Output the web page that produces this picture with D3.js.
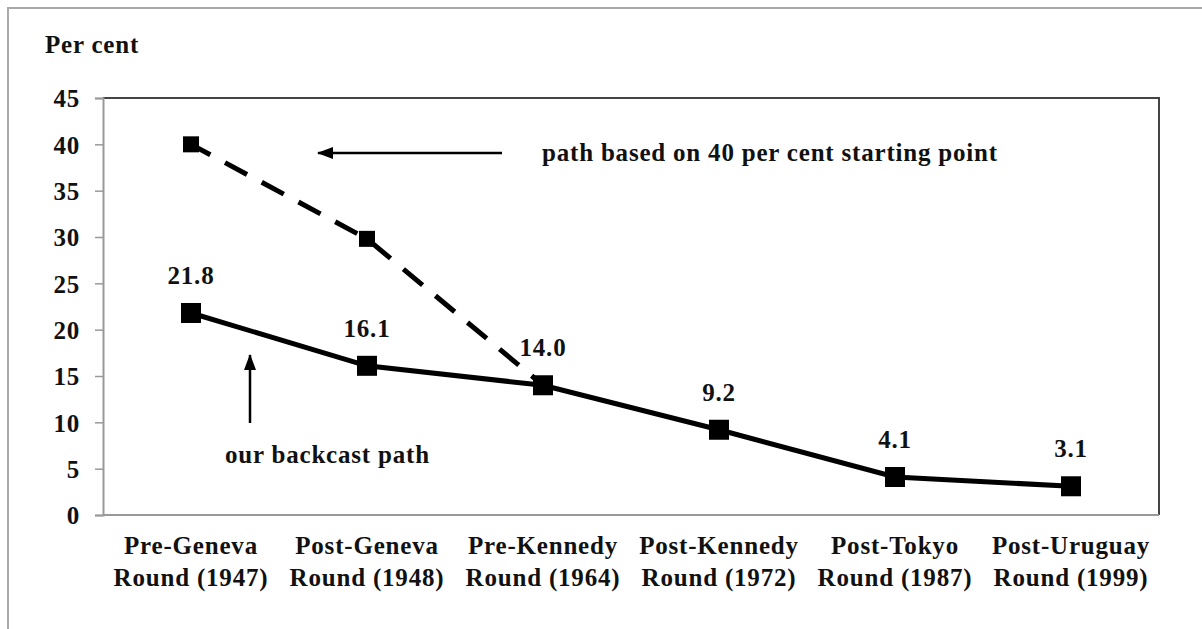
<!DOCTYPE html>
<html>
<head>
<meta charset="utf-8">
<script src="https://cdn.jsdelivr.net/npm/d3@7"></script>
<style>
  body { margin: 0; background: #fff; }
  text { font-family: "Liberation Serif", "Times New Roman", serif; font-weight: bold; fill: #111; letter-spacing: 0.8px; }
</style>
</head>
<body>
<div id="chart"></div>
<script>
// rounds on the x axis, two lines each
const categories = ["Pre-Geneva|Round (1947)", "Post-Geneva|Round (1948)", "Pre-Kennedy|Round (1964)",
                    "Post-Kennedy|Round (1972)", "Post-Tokyo|Round (1987)", "Post-Uruguay|Round (1999)"]
const backcast = [21.8, 16.1, 14.0, 9.2, 4.1, 3.1]
const alt40 = [40, 29.8, 14.0]   // path from 40 per cent start, first three rounds
const yTicks = [0, 5, 10, 15, 20, 25, 30, 35, 40, 45]

const width = 1202, height = 629
const m = {left: 103, right: 1159, top: 98, bottom: 515}

const svg = d3.select("#chart").append("svg")
    .attr("width", width)
    .attr("height", height)

// outer frame (only top and left edges visible)
svg.append("path")
    .attr("d", `M8,${height}V8H${width}`)
    .attr("fill", "none")
    .attr("stroke", "#aaa")
    .attr("stroke-width", 2)

const x = d3.scaleBand().domain(categories).range([m.left, m.right])
const y = d3.scaleLinear().domain([0, 45]).range([m.bottom, m.top])
const cx = i => x(categories[i]) + x.bandwidth() / 2

// plot border top/right
svg.append("path")
    .attr("d", `M${m.left},${m.top}H${m.right}V${m.bottom}`)
    .attr("fill", "none")
    .attr("stroke", "#444")
    .attr("stroke-width", 2)

// y axis
const yAxis = svg.append("g")
    .attr("transform", `translate(${m.left},0)`)
    .call(d3.axisLeft(y).tickValues(yTicks).tickSize(8).tickPadding(15))
yAxis.select(".domain").attr("stroke", "#999").attr("stroke-width", 2)
yAxis.selectAll(".tick line").attr("stroke", "#999").attr("stroke-width", 1.5)
yAxis.selectAll(".tick text")
    .style("font-size", "25px")
    .style("font-family", '"Liberation Serif", serif')
    .style("font-weight", "bold")
    .attr("fill", "#111")
    .attr("dy", "0.35em")

// x axis line
svg.append("line")
    .attr("x1", m.left).attr("x2", m.right)
    .attr("y1", m.bottom).attr("y2", m.bottom)
    .attr("stroke", "#999").attr("stroke-width", 2)

// category labels
const catText = svg.append("g").selectAll("text")
    .data(categories)
    .join("text")
    .attr("text-anchor", "middle")
    .style("font-size", "25px")
catText.each(function(d) {
    const parts = d.split("|")
    const t = d3.select(this)
    parts.forEach((p, k) => {
        t.append("tspan")
            .attr("x", x(d) + x.bandwidth() / 2)
            .attr("y", 554 + k * 32)
            .text(p)
    })
})

// y axis title
svg.append("text")
    .attr("x", 45).attr("y", 53)
    .style("font-size", "25px")
    .text("Per cent")

// dashed 40 per cent path
const line = d3.line().x((d, i) => cx(i)).y(d => y(d))
svg.append("path")
    .datum(alt40)
    .attr("d", line)
    .attr("fill", "none")
    .attr("stroke", "#000")
    .attr("stroke-width", 5)
    .attr("stroke-dasharray", "25,16.7")
    .attr("stroke-dashoffset", 3.1)

svg.append("g").selectAll("rect")
    .data(alt40.slice(0, 2))
    .join("rect")
    .attr("x", (d, i) => cx(i) - 8)
    .attr("y", d => y(d) - 8)
    .attr("width", 16).attr("height", 16)
    .attr("fill", "#000")

// backcast path
svg.append("path")
    .datum(backcast)
    .attr("d", line)
    .attr("fill", "none")
    .attr("stroke", "#000")
    .attr("stroke-width", 5)

svg.append("g").selectAll("rect")
    .data(backcast)
    .join("rect")
    .attr("x", (d, i) => cx(i) - 10)
    .attr("y", d => y(d) - 10)
    .attr("width", 20).attr("height", 20)
    .attr("fill", "#000")

// value labels
svg.append("g").selectAll("text")
    .data(backcast)
    .join("text")
    .attr("x", (d, i) => cx(i))
    .attr("y", d => y(d) - 29)
    .attr("text-anchor", "middle")
    .style("font-size", "25px")
    .text(d => d.toFixed(1))

// arrows
svg.append("defs").append("marker")
    .attr("id", "arrow")
    .attr("markerUnits", "userSpaceOnUse")
    .attr("markerWidth", 16)
    .attr("markerHeight", 14)
    .attr("viewBox", "0 -7 16 14")
    .attr("refX", 15)
    .attr("refY", 0)
    .attr("orient", "auto")
    .append("path")
    .attr("d", "M0,-6L16,0L0,6Z")
    .attr("fill", "#000")

svg.append("line")
    .attr("x1", 502).attr("y1", 153)
    .attr("x2", 318).attr("y2", 153)
    .attr("stroke", "#000").attr("stroke-width", 2.5)
    .attr("marker-end", "url(#arrow)")

svg.append("line")
    .attr("x1", 250).attr("y1", 423)
    .attr("x2", 250).attr("y2", 355)
    .attr("stroke", "#000").attr("stroke-width", 2.5)
    .attr("marker-end", "url(#arrow)")

svg.append("text")
    .attr("x", 542).attr("y", 161)
    .style("font-size", "25px")
    .text("path based on 40 per cent starting point")

svg.append("text")
    .attr("x", 225).attr("y", 463)
    .style("font-size", "25px")
    .text("our backcast path")
</script>
</body>
</html>
